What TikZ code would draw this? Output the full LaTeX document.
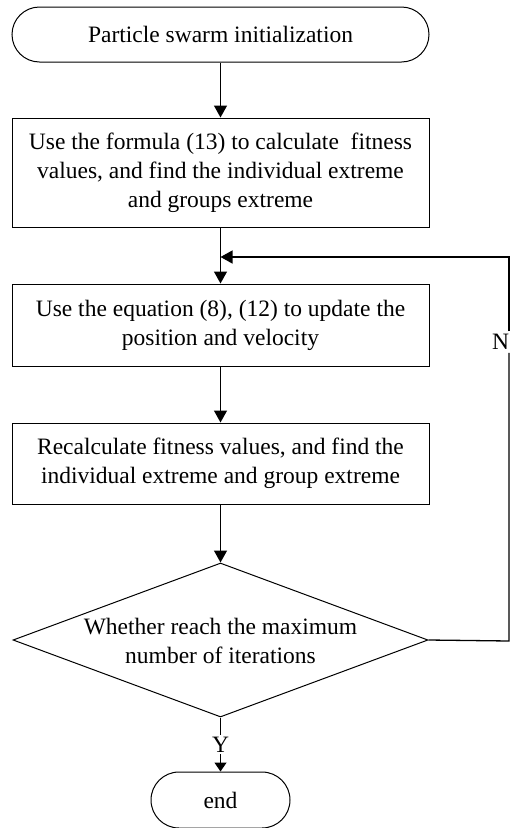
\documentclass[tikz,border=0pt]{standalone}
\usepackage{fontspec}
\setmainfont{Liberation Serif}
\usetikzlibrary{shapes.geometric,shapes.misc,arrows.meta}
\begin{document}
\begin{tikzpicture}[x=1pt,y=1pt,
  every node/.style={font=\fontsize{23.5}{29}\selectfont},
  term/.style={draw, rounded rectangle, line width=1pt, inner sep=0pt},
  proc/.style={draw, rectangle, line width=1pt, minimum width=417pt, inner sep=0pt, align=center},
  decision/.style={draw, diamond, line width=1pt, minimum width=415pt, minimum height=154pt, inner sep=0pt},
  flow/.style={line width=1.3pt, -{Triangle[length=12pt,width=13pt]}},
  flowsmall/.style={line width=1.3pt, -{Triangle[length=9pt,width=12pt]}},
  plain/.style={line width=1.3pt}
]
\useasboundingbox (0,0) rectangle (510,-828);
\clip (0,0) rectangle (510,-828);
\node[term, minimum width=417pt, minimum height=55pt] (start) at (220.5,-34.5) {Particle swarm initialization};
\node[proc, minimum height=109pt] (b1) at (220.5,-172.5) {Use the formula (13) to calculate~ fitness\\values, and find the individual extreme\\and groups extreme};
\node[proc, minimum height=82pt] (b2) at (220.5,-325) {Use the equation (8), (12) to update the\\position and velocity};
\node[proc, minimum height=81pt] (b3) at (220.5,-463.5) {Recalculate fitness values, and find the\\individual extreme and group extreme};
\node[decision] (d) at (220.5,-640) {};
\node[align=center] (dtext) at (220.5,-641) {Whether reach the maximum\\number of iterations};
\node[term, minimum width=139pt, minimum height=56pt] (end) at (220.5,-800) {end};
\node[inner sep=2pt] (y) at (220.5,-744.5) {Y};
\node[inner sep=3pt] (n) at (500.5,-342) {N};
\coordinate (join) at (220.5,-257);
\coordinate (rdn) at (509,-641);
\coordinate (rup) at (509,-257);
\draw[flow] (start) -- (b1);
\draw[flow] (b1) -- (b2);
\draw[flow] (b2) -- (b3);
\draw[flow] (b3) -- (d.north);
\draw[plain] (d.south) -- (y.north);
\draw[flowsmall] (y.south) -- (end.north);
\draw[plain] (d.east) -- (rdn) -- (rdn |- n.south);
\draw[flow] (rup |- n.north) -- (rup) -- (join);
\end{tikzpicture}
\end{document}
